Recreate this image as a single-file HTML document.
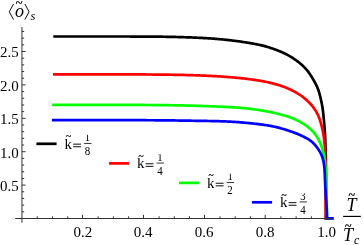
<!DOCTYPE html>
<html><head><meta charset="utf-8"><style>
html,body{margin:0;padding:0;background:#fff;}
body{width:364px;height:245px;overflow:hidden;position:relative;font-family:"Liberation Serif",serif;}
svg{position:absolute;left:0;top:0;}
text{font-family:"Liberation Serif",serif;fill:#000;}
</style></head><body>
<div style="position:absolute;left:0;top:0;width:364px;height:245px;will-change:transform">
<svg width="364" height="245" viewBox="0 0 364 245">
<path d="M53.30,36.50 L54.30,36.50 L55.30,36.50 L56.30,36.50 L57.30,36.50 L58.30,36.50 L59.30,36.50 L60.30,36.50 L61.30,36.50 L62.30,36.50 L63.30,36.50 L64.30,36.50 L65.30,36.50 L66.30,36.50 L67.30,36.50 L68.30,36.50 L69.30,36.50 L70.30,36.50 L71.30,36.50 L72.30,36.50 L73.30,36.50 L74.30,36.50 L75.30,36.50 L76.30,36.50 L77.30,36.50 L78.30,36.50 L79.30,36.50 L80.30,36.50 L81.30,36.50 L82.30,36.50 L83.30,36.50 L84.30,36.50 L85.30,36.50 L86.30,36.50 L87.30,36.50 L88.30,36.50 L89.30,36.50 L90.30,36.50 L91.30,36.50 L92.30,36.50 L93.30,36.50 L94.30,36.50 L95.30,36.50 L96.30,36.50 L97.30,36.50 L98.30,36.50 L99.30,36.50 L100.30,36.50 L101.30,36.50 L102.30,36.50 L103.30,36.50 L104.30,36.50 L105.30,36.50 L106.30,36.50 L107.30,36.50 L108.30,36.50 L109.30,36.50 L110.30,36.50 L111.30,36.50 L112.30,36.50 L113.30,36.50 L114.30,36.50 L115.30,36.50 L116.30,36.50 L117.30,36.50 L118.30,36.51 L119.30,36.51 L120.30,36.51 L121.30,36.51 L122.30,36.51 L123.30,36.51 L124.30,36.51 L125.30,36.52 L126.30,36.52 L127.30,36.52 L128.30,36.52 L129.30,36.52 L130.30,36.53 L131.30,36.53 L132.30,36.53 L133.30,36.53 L134.30,36.54 L135.30,36.54 L136.30,36.54 L137.30,36.54 L138.30,36.55 L139.30,36.55 L140.30,36.55 L141.30,36.56 L142.30,36.56 L143.30,36.57 L144.30,36.57 L145.30,36.58 L146.30,36.58 L147.30,36.59 L148.30,36.59 L149.30,36.60 L150.30,36.61 L151.30,36.61 L152.30,36.62 L153.30,36.63 L154.30,36.64 L155.30,36.65 L156.30,36.66 L157.30,36.67 L158.30,36.68 L159.30,36.69 L160.30,36.70 L161.30,36.71 L162.30,36.72 L163.30,36.74 L164.30,36.75 L165.30,36.76 L166.30,36.78 L167.30,36.80 L168.30,36.81 L169.30,36.83 L170.30,36.85 L171.30,36.87 L172.30,36.89 L173.30,36.91 L174.30,36.94 L175.30,36.96 L176.30,36.99 L177.30,37.02 L178.30,37.04 L179.30,37.07 L180.30,37.10 L181.30,37.13 L182.29,37.16 L183.29,37.20 L184.29,37.23 L185.29,37.26 L186.29,37.29 L187.29,37.33 L188.29,37.36 L189.29,37.40 L190.29,37.44 L191.29,37.47 L192.29,37.51 L193.29,37.55 L194.29,37.59 L195.29,37.64 L196.29,37.68 L197.28,37.73 L198.28,37.77 L199.28,37.82 L200.28,37.87 L201.28,37.92 L202.28,37.97 L203.28,38.03 L204.28,38.08 L205.28,38.14 L206.27,38.20 L207.27,38.26 L208.27,38.32 L209.27,38.38 L210.27,38.44 L211.26,38.51 L212.26,38.58 L213.26,38.65 L214.25,38.72 L215.25,38.80 L216.25,38.88 L217.24,38.97 L218.24,39.05 L219.24,39.14 L220.23,39.23 L221.23,39.33 L222.22,39.43 L223.22,39.53 L224.21,39.63 L225.21,39.73 L226.20,39.83 L227.20,39.94 L228.19,40.05 L229.19,40.15 L230.18,40.27 L231.17,40.38 L232.17,40.49 L233.16,40.61 L234.15,40.73 L235.14,40.86 L236.14,40.98 L237.13,41.11 L238.12,41.25 L239.11,41.38 L240.10,41.52 L241.09,41.66 L242.08,41.81 L243.07,41.96 L244.06,42.11 L245.04,42.26 L246.03,42.42 L247.02,42.58 L248.01,42.74 L248.99,42.90 L249.98,43.07 L250.96,43.24 L251.95,43.42 L252.93,43.60 L253.92,43.78 L254.90,43.97 L255.88,44.16 L256.86,44.35 L257.84,44.55 L258.82,44.75 L259.80,44.97 L260.77,45.18 L261.75,45.41 L262.72,45.64 L263.69,45.88 L264.65,46.14 L265.62,46.40 L266.58,46.67 L267.54,46.95 L268.49,47.25 L269.45,47.55 L270.40,47.86 L271.34,48.17 L272.29,48.50 L273.24,48.83 L274.18,49.16 L275.12,49.51 L276.06,49.85 L276.99,50.21 L277.92,50.57 L278.85,50.94 L279.78,51.31 L280.71,51.69 L281.63,52.09 L282.54,52.49 L283.45,52.90 L284.36,53.32 L285.26,53.75 L286.15,54.20 L287.04,54.65 L287.92,55.12 L288.79,55.61 L289.66,56.10 L290.52,56.61 L291.37,57.13 L292.21,57.67 L293.05,58.21 L293.88,58.76 L294.71,59.33 L295.53,59.90 L296.34,60.48 L297.15,61.07 L297.94,61.67 L298.73,62.29 L299.51,62.91 L300.29,63.54 L301.05,64.19 L301.80,64.85 L302.54,65.52 L303.26,66.20 L303.98,66.90 L304.68,67.61 L305.36,68.33 L306.03,69.07 L306.68,69.83 L307.31,70.60 L307.93,71.38 L308.53,72.17 L309.11,72.98 L309.68,73.80 L310.24,74.63 L310.78,75.47 L311.31,76.31 L311.84,77.16 L312.36,78.02 L312.87,78.88 L313.37,79.74 L313.88,80.60 L314.37,81.47 L314.86,82.34 L315.33,83.22 L315.79,84.11 L316.23,85.00 L316.66,85.90 L317.07,86.81 L317.45,87.73 L317.82,88.65 L318.17,89.59 L318.50,90.53 L318.81,91.48 L319.11,92.43 L319.39,93.39 L319.66,94.35 L319.91,95.31 L320.16,96.28 L320.40,97.25 L320.63,98.23 L320.85,99.20 L321.07,100.18 L321.28,101.15 L321.48,102.13 L321.68,103.11 L321.87,104.10 L322.05,105.08 L322.22,106.06 L322.39,107.05 L322.54,108.03 L322.69,109.02 L322.82,110.01 L322.95,111.00 L323.07,112.00 L323.18,112.99 L323.29,113.98 L323.39,114.98 L323.49,115.97 L323.59,116.97 L323.69,117.96 L323.78,118.96 L323.87,119.96 L323.96,120.95 L324.05,121.95 L324.14,122.94 L324.23,123.94 L324.31,124.94 L324.39,125.93 L324.47,126.93 L324.55,127.93 L324.62,128.92 L324.70,129.92 L324.77,130.92 L324.83,131.92 L324.90,132.91 L324.96,133.91 L325.01,134.91 L325.07,135.91 L325.12,136.91 L325.17,137.91 L325.21,138.91 L325.26,139.90 L325.30,140.90 L325.34,141.90 L325.37,142.90 L325.41,143.90 L325.44,144.90 L325.47,145.90 L325.50,146.90 L325.53,147.90 L325.56,148.90 L325.59,149.90 L325.62,150.90 L325.64,151.90 L325.67,152.90 L325.69,153.90 L325.72,154.90 L325.74,155.90 L325.76,156.90 L325.78,157.90 L325.80,158.90 L325.82,159.90 L325.84,160.90 L325.85,161.90 L325.87,162.90 L325.88,163.90 L325.89,164.90 L325.90,165.90 L325.91,166.90 L325.92,167.90 L325.93,168.90 L325.94,169.90 L325.94,170.90 L325.95,171.90 L325.96,172.90 L325.96,173.90 L325.97,174.90 L325.97,175.90 L325.98,176.90 L325.98,177.90 L325.98,178.90 L325.99,179.90 L325.99,180.90 L325.99,181.90 L325.99,182.90 L326.00,183.90 L326.00,184.90 L326.00,185.90 L326.00,186.90 L326.00,187.90 L326.00,188.90 L326.00,189.90 L326.00,190.90 L326.00,191.90 L326.00,192.90 L326.00,193.90 L326.00,194.90 L326.00,195.90 L326.00,196.90 L326.00,197.90 L326.00,198.90 L326.00,199.90 L326.00,200.90 L326.00,201.90 L326.00,202.90 L326.00,203.90 L326.00,204.90 L326.00,205.90 L326.00,206.90 L326.00,207.90 L326.00,208.90 L326.00,209.90 L326.00,210.90 L326.00,211.90 L326.00,212.90 L326.00,213.90 L326.00,214.90 L326.00,215.90 L326.00,216.90 L326.00,217.90 L326.0,218.45 L333.5,218.45" fill="none" stroke="#000" stroke-width="2.7" stroke-linejoin="miter"/>
<path d="M53.00,74.40 L54.00,74.40 L55.00,74.40 L56.00,74.40 L57.00,74.40 L58.00,74.40 L59.00,74.40 L60.00,74.40 L61.00,74.40 L62.00,74.40 L63.00,74.40 L64.00,74.40 L65.00,74.40 L66.00,74.40 L67.00,74.40 L68.00,74.40 L69.00,74.40 L70.00,74.40 L71.00,74.40 L72.00,74.40 L73.00,74.40 L74.00,74.40 L75.00,74.40 L76.00,74.40 L77.00,74.40 L78.00,74.40 L79.00,74.40 L80.00,74.40 L81.00,74.40 L82.00,74.40 L83.00,74.40 L84.00,74.40 L85.00,74.40 L86.00,74.40 L87.00,74.40 L88.00,74.40 L89.00,74.40 L90.00,74.40 L91.00,74.40 L92.00,74.40 L93.00,74.40 L94.00,74.40 L95.00,74.40 L96.00,74.40 L97.00,74.40 L98.00,74.40 L99.00,74.40 L100.00,74.40 L101.00,74.40 L102.00,74.40 L103.00,74.40 L104.00,74.40 L105.00,74.40 L106.00,74.40 L107.00,74.40 L108.00,74.40 L109.00,74.40 L110.00,74.40 L111.00,74.40 L112.00,74.40 L113.00,74.40 L114.00,74.40 L115.00,74.40 L116.00,74.40 L117.00,74.40 L118.00,74.41 L119.00,74.41 L120.00,74.41 L121.00,74.41 L122.00,74.41 L123.00,74.41 L124.00,74.41 L125.00,74.42 L126.00,74.42 L127.00,74.42 L128.00,74.42 L129.00,74.42 L130.00,74.43 L131.00,74.43 L132.00,74.43 L133.00,74.43 L134.00,74.43 L135.00,74.44 L136.00,74.44 L137.00,74.44 L138.00,74.45 L139.00,74.45 L140.00,74.45 L141.00,74.46 L142.00,74.46 L143.00,74.46 L144.00,74.47 L145.00,74.47 L146.00,74.48 L147.00,74.49 L148.00,74.49 L149.00,74.50 L150.00,74.51 L151.00,74.52 L152.00,74.52 L153.00,74.53 L154.00,74.54 L155.00,74.55 L156.00,74.56 L157.00,74.57 L158.00,74.58 L159.00,74.59 L160.00,74.60 L161.00,74.61 L162.00,74.62 L163.00,74.63 L164.00,74.64 L165.00,74.66 L166.00,74.67 L167.00,74.68 L168.00,74.69 L169.00,74.71 L170.00,74.72 L171.00,74.73 L172.00,74.75 L173.00,74.77 L174.00,74.78 L175.00,74.80 L176.00,74.82 L177.00,74.83 L178.00,74.85 L179.00,74.87 L180.00,74.89 L181.00,74.91 L182.00,74.93 L183.00,74.95 L184.00,74.97 L185.00,75.00 L186.00,75.02 L187.00,75.04 L188.00,75.07 L189.00,75.09 L189.99,75.12 L190.99,75.15 L191.99,75.18 L192.99,75.21 L193.99,75.24 L194.99,75.27 L195.99,75.30 L196.99,75.34 L197.99,75.37 L198.99,75.41 L199.99,75.45 L200.99,75.49 L201.99,75.53 L202.99,75.57 L203.99,75.61 L204.99,75.66 L205.98,75.70 L206.98,75.75 L207.98,75.79 L208.98,75.84 L209.98,75.89 L210.98,75.94 L211.98,75.99 L212.98,76.04 L213.97,76.10 L214.97,76.15 L215.97,76.21 L216.97,76.27 L217.97,76.33 L218.97,76.39 L219.96,76.46 L220.96,76.52 L221.96,76.59 L222.96,76.66 L223.95,76.73 L224.95,76.81 L225.95,76.88 L226.95,76.96 L227.94,77.03 L228.94,77.11 L229.94,77.19 L230.93,77.27 L231.93,77.36 L232.93,77.44 L233.92,77.53 L234.92,77.62 L235.91,77.71 L236.91,77.80 L237.91,77.90 L238.90,77.99 L239.90,78.09 L240.89,78.20 L241.88,78.30 L242.88,78.41 L243.87,78.52 L244.87,78.63 L245.86,78.75 L246.85,78.87 L247.84,78.99 L248.84,79.12 L249.83,79.25 L250.82,79.38 L251.81,79.51 L252.80,79.65 L253.79,79.79 L254.78,79.93 L255.77,80.08 L256.76,80.23 L257.75,80.38 L258.73,80.54 L259.72,80.70 L260.71,80.87 L261.69,81.04 L262.68,81.22 L263.66,81.40 L264.64,81.59 L265.62,81.78 L266.60,81.99 L267.58,82.20 L268.55,82.41 L269.53,82.64 L270.50,82.87 L271.47,83.10 L272.44,83.34 L273.41,83.59 L274.38,83.85 L275.34,84.11 L276.31,84.38 L277.27,84.65 L278.22,84.94 L279.18,85.23 L280.13,85.53 L281.08,85.85 L282.03,86.17 L282.97,86.51 L283.90,86.85 L284.84,87.21 L285.77,87.58 L286.69,87.96 L287.61,88.35 L288.53,88.75 L289.44,89.16 L290.35,89.58 L291.25,90.00 L292.15,90.44 L293.04,90.89 L293.93,91.35 L294.81,91.81 L295.69,92.29 L296.56,92.78 L297.42,93.29 L298.27,93.80 L299.12,94.34 L299.95,94.88 L300.78,95.45 L301.59,96.02 L302.39,96.62 L303.19,97.22 L303.97,97.84 L304.74,98.48 L305.50,99.12 L306.25,99.78 L306.99,100.45 L307.72,101.14 L308.43,101.84 L309.14,102.54 L309.83,103.26 L310.51,104.00 L311.18,104.74 L311.83,105.50 L312.46,106.26 L313.08,107.04 L313.69,107.84 L314.27,108.65 L314.83,109.47 L315.38,110.30 L315.90,111.15 L316.40,112.01 L316.88,112.88 L317.34,113.77 L317.78,114.66 L318.20,115.57 L318.59,116.48 L318.97,117.40 L319.33,118.33 L319.66,119.27 L319.99,120.22 L320.29,121.17 L320.58,122.12 L320.86,123.08 L321.13,124.05 L321.38,125.01 L321.63,125.98 L321.86,126.95 L322.09,127.93 L322.31,128.90 L322.52,129.88 L322.73,130.86 L322.93,131.84 L323.11,132.82 L323.29,133.80 L323.46,134.79 L323.62,135.78 L323.76,136.76 L323.90,137.75 L324.03,138.74 L324.15,139.74 L324.26,140.73 L324.36,141.72 L324.46,142.72 L324.54,143.72 L324.63,144.71 L324.70,145.71 L324.77,146.71 L324.84,147.70 L324.90,148.70 L324.96,149.70 L325.01,150.70 L325.06,151.70 L325.10,152.70 L325.14,153.70 L325.18,154.70 L325.22,155.70 L325.25,156.69 L325.28,157.69 L325.30,158.69 L325.33,159.69 L325.35,160.69 L325.37,161.69 L325.39,162.69 L325.41,163.69 L325.42,164.69 L325.44,165.69 L325.45,166.69 L325.47,167.69 L325.48,168.69 L325.49,169.69 L325.50,170.69 L325.51,171.69 L325.52,172.69 L325.53,173.69 L325.54,174.69 L325.55,175.69 L325.56,176.69 L325.57,177.69 L325.58,178.69 L325.59,179.69 L325.59,180.69 L325.60,181.69 L325.61,182.69 L325.61,183.69 L325.62,184.69 L325.63,185.69 L325.63,186.69 L325.64,187.69 L325.64,188.69 L325.65,189.69 L325.65,190.69 L325.66,191.69 L325.66,192.69 L325.67,193.69 L325.67,194.69 L325.67,195.69 L325.68,196.69 L325.68,197.69 L325.69,198.69 L325.69,199.69 L325.69,200.69 L325.70,201.69 L325.70,202.69 L325.70,203.69 L325.71,204.69 L325.71,205.69 L325.71,206.69 L325.72,207.69 L325.72,208.69 L325.72,209.69 L325.73,210.69 L325.73,211.69 L325.73,212.69 L325.74,213.69 L325.74,214.69 L325.74,215.69 L325.74,216.69 L325.75,217.69 L325.75,218.45 L333.5,218.45" fill="none" stroke="#f00" stroke-width="2.7" stroke-linejoin="miter"/>
<path d="M52.20,104.90 L53.20,104.90 L54.20,104.90 L55.20,104.90 L56.20,104.90 L57.20,104.90 L58.20,104.90 L59.20,104.90 L60.20,104.90 L61.20,104.90 L62.20,104.90 L63.20,104.90 L64.20,104.90 L65.20,104.90 L66.20,104.90 L67.20,104.90 L68.20,104.90 L69.20,104.90 L70.20,104.90 L71.20,104.90 L72.20,104.90 L73.20,104.90 L74.20,104.90 L75.20,104.90 L76.20,104.90 L77.20,104.90 L78.20,104.90 L79.20,104.90 L80.20,104.90 L81.20,104.90 L82.20,104.90 L83.20,104.90 L84.20,104.90 L85.20,104.90 L86.20,104.90 L87.20,104.90 L88.20,104.90 L89.20,104.90 L90.20,104.90 L91.20,104.90 L92.20,104.90 L93.20,104.90 L94.20,104.90 L95.20,104.90 L96.20,104.90 L97.20,104.90 L98.20,104.90 L99.20,104.90 L100.20,104.90 L101.20,104.90 L102.20,104.90 L103.20,104.90 L104.20,104.90 L105.20,104.90 L106.20,104.90 L107.20,104.90 L108.20,104.90 L109.20,104.90 L110.20,104.90 L111.20,104.90 L112.20,104.90 L113.20,104.90 L114.20,104.90 L115.20,104.90 L116.20,104.90 L117.20,104.90 L118.20,104.91 L119.20,104.91 L120.20,104.91 L121.20,104.91 L122.20,104.91 L123.20,104.91 L124.20,104.91 L125.20,104.92 L126.20,104.92 L127.20,104.92 L128.20,104.92 L129.20,104.92 L130.20,104.93 L131.20,104.93 L132.20,104.93 L133.20,104.93 L134.20,104.94 L135.20,104.94 L136.20,104.94 L137.20,104.94 L138.20,104.95 L139.20,104.95 L140.20,104.95 L141.20,104.96 L142.20,104.96 L143.20,104.97 L144.20,104.97 L145.20,104.98 L146.20,104.98 L147.20,104.99 L148.20,104.99 L149.20,105.00 L150.20,105.01 L151.20,105.02 L152.20,105.03 L153.20,105.03 L154.20,105.04 L155.20,105.05 L156.20,105.06 L157.20,105.07 L158.20,105.08 L159.20,105.09 L160.20,105.10 L161.20,105.11 L162.20,105.12 L163.20,105.13 L164.20,105.15 L165.20,105.16 L166.20,105.17 L167.20,105.18 L168.20,105.20 L169.20,105.21 L170.20,105.23 L171.20,105.24 L172.20,105.26 L173.20,105.27 L174.20,105.29 L175.20,105.31 L176.20,105.32 L177.20,105.34 L178.20,105.36 L179.20,105.38 L180.20,105.40 L181.20,105.42 L182.20,105.44 L183.20,105.46 L184.20,105.48 L185.20,105.51 L186.20,105.53 L187.20,105.55 L188.20,105.57 L189.20,105.60 L190.19,105.62 L191.19,105.65 L192.19,105.67 L193.19,105.70 L194.19,105.72 L195.19,105.75 L196.19,105.78 L197.19,105.81 L198.19,105.84 L199.19,105.87 L200.19,105.90 L201.19,105.93 L202.19,105.97 L203.19,106.00 L204.19,106.03 L205.19,106.07 L206.19,106.10 L207.19,106.14 L208.19,106.17 L209.19,106.21 L210.19,106.25 L211.18,106.29 L212.18,106.32 L213.18,106.36 L214.18,106.40 L215.18,106.45 L216.18,106.49 L217.18,106.53 L218.18,106.58 L219.18,106.62 L220.18,106.67 L221.17,106.72 L222.17,106.76 L223.17,106.81 L224.17,106.86 L225.17,106.91 L226.17,106.96 L227.17,107.00 L228.17,107.05 L229.17,107.10 L230.16,107.16 L231.16,107.21 L232.16,107.26 L233.16,107.32 L234.16,107.38 L235.16,107.44 L236.15,107.51 L237.15,107.58 L238.15,107.65 L239.15,107.73 L240.14,107.81 L241.14,107.89 L242.13,107.98 L243.13,108.07 L244.13,108.17 L245.12,108.27 L246.11,108.37 L247.11,108.48 L248.10,108.59 L249.10,108.70 L250.09,108.82 L251.08,108.95 L252.07,109.07 L253.06,109.20 L254.06,109.33 L255.05,109.47 L256.04,109.61 L257.03,109.75 L258.02,109.89 L259.01,110.04 L259.99,110.19 L260.98,110.35 L261.97,110.51 L262.96,110.67 L263.94,110.84 L264.93,111.02 L265.91,111.19 L266.89,111.38 L267.87,111.57 L268.86,111.76 L269.84,111.96 L270.81,112.16 L271.79,112.37 L272.77,112.58 L273.75,112.80 L274.72,113.02 L275.69,113.25 L276.67,113.48 L277.64,113.72 L278.61,113.96 L279.58,114.20 L280.55,114.45 L281.52,114.70 L282.48,114.96 L283.45,115.22 L284.41,115.48 L285.37,115.76 L286.33,116.04 L287.28,116.34 L288.23,116.65 L289.18,116.97 L290.12,117.31 L291.05,117.66 L291.98,118.02 L292.91,118.40 L293.83,118.79 L294.75,119.19 L295.66,119.60 L296.56,120.03 L297.46,120.46 L298.35,120.91 L299.24,121.37 L300.12,121.84 L301.00,122.33 L301.86,122.83 L302.72,123.34 L303.56,123.87 L304.40,124.41 L305.23,124.97 L306.05,125.55 L306.85,126.13 L307.65,126.74 L308.43,127.36 L309.20,128.00 L309.96,128.65 L310.70,129.32 L311.42,130.01 L312.13,130.71 L312.81,131.43 L313.48,132.17 L314.13,132.92 L314.75,133.69 L315.35,134.48 L315.93,135.29 L316.49,136.12 L317.02,136.96 L317.53,137.81 L318.02,138.68 L318.49,139.56 L318.94,140.45 L319.38,141.34 L319.80,142.25 L320.20,143.17 L320.60,144.09 L320.97,145.01 L321.33,145.94 L321.68,146.88 L322.01,147.82 L322.32,148.77 L322.61,149.72 L322.89,150.68 L323.14,151.64 L323.38,152.61 L323.60,153.59 L323.81,154.56 L324.00,155.54 L324.17,156.53 L324.34,157.51 L324.49,158.50 L324.63,159.49 L324.76,160.48 L324.89,161.47 L325.00,162.46 L325.12,163.46 L325.22,164.45 L325.33,165.45 L325.43,166.44 L325.52,167.44 L325.61,168.44 L325.70,169.43 L325.78,170.43 L325.86,171.43 L325.94,172.42 L326.00,173.42 L326.06,174.42 L326.12,175.42 L326.16,176.41 L326.21,177.41 L326.25,178.41 L326.28,179.41 L326.31,180.41 L326.33,181.41 L326.36,182.41 L326.38,183.41 L326.40,184.41 L326.42,185.41 L326.44,186.41 L326.46,187.41 L326.47,188.41 L326.49,189.41 L326.51,190.41 L326.52,191.41 L326.54,192.41 L326.56,193.41 L326.58,194.41 L326.59,195.41 L326.61,196.41 L326.63,197.41 L326.65,198.41 L326.67,199.41 L326.69,200.41 L326.71,201.41 L326.74,202.41 L326.76,203.41 L326.78,204.41 L326.80,205.41 L326.82,206.41 L326.84,207.41 L326.86,208.41 L326.88,209.41 L326.89,210.41 L326.91,211.41 L326.93,212.41 L326.94,213.41 L326.95,214.41 L326.96,215.40 L326.97,216.40 L326.98,217.40 L326.99,218.40 L327.0,218.45 L333.5,218.45" fill="none" stroke="#0f0" stroke-width="2.7" stroke-linejoin="miter"/>
<path d="M51.90,120.15 L52.90,120.15 L53.90,120.15 L54.90,120.15 L55.90,120.15 L56.90,120.15 L57.90,120.15 L58.90,120.15 L59.90,120.15 L60.90,120.15 L61.90,120.15 L62.90,120.15 L63.90,120.15 L64.90,120.15 L65.90,120.15 L66.90,120.15 L67.90,120.15 L68.90,120.15 L69.90,120.15 L70.90,120.15 L71.90,120.15 L72.90,120.15 L73.90,120.15 L74.90,120.15 L75.90,120.15 L76.90,120.15 L77.90,120.15 L78.90,120.15 L79.90,120.15 L80.90,120.15 L81.90,120.15 L82.90,120.15 L83.90,120.15 L84.90,120.15 L85.90,120.15 L86.90,120.15 L87.90,120.15 L88.90,120.15 L89.90,120.15 L90.90,120.15 L91.90,120.15 L92.90,120.15 L93.90,120.15 L94.90,120.15 L95.90,120.15 L96.90,120.15 L97.90,120.15 L98.90,120.15 L99.90,120.15 L100.90,120.15 L101.90,120.15 L102.90,120.15 L103.90,120.15 L104.90,120.15 L105.90,120.15 L106.90,120.15 L107.90,120.15 L108.90,120.15 L109.90,120.15 L110.90,120.15 L111.90,120.15 L112.90,120.15 L113.90,120.15 L114.90,120.15 L115.90,120.15 L116.90,120.15 L117.90,120.16 L118.90,120.16 L119.90,120.16 L120.90,120.16 L121.90,120.16 L122.90,120.16 L123.90,120.16 L124.90,120.17 L125.90,120.17 L126.90,120.17 L127.90,120.17 L128.90,120.17 L129.90,120.18 L130.90,120.18 L131.90,120.18 L132.90,120.18 L133.90,120.18 L134.90,120.19 L135.90,120.19 L136.90,120.19 L137.90,120.20 L138.90,120.20 L139.90,120.20 L140.90,120.20 L141.90,120.21 L142.90,120.21 L143.90,120.22 L144.90,120.22 L145.90,120.22 L146.90,120.23 L147.90,120.23 L148.90,120.24 L149.90,120.24 L150.90,120.25 L151.90,120.26 L152.90,120.26 L153.90,120.27 L154.90,120.28 L155.90,120.28 L156.90,120.29 L157.90,120.30 L158.90,120.30 L159.90,120.31 L160.90,120.32 L161.90,120.33 L162.90,120.34 L163.90,120.35 L164.90,120.35 L165.90,120.36 L166.90,120.37 L167.90,120.38 L168.90,120.40 L169.90,120.41 L170.90,120.42 L171.90,120.43 L172.90,120.45 L173.90,120.46 L174.90,120.47 L175.90,120.49 L176.90,120.50 L177.90,120.52 L178.90,120.53 L179.90,120.55 L180.90,120.56 L181.90,120.58 L182.90,120.60 L183.90,120.61 L184.90,120.63 L185.90,120.64 L186.90,120.66 L187.90,120.67 L188.90,120.69 L189.90,120.70 L190.90,120.72 L191.90,120.73 L192.90,120.75 L193.90,120.76 L194.90,120.78 L195.90,120.79 L196.90,120.81 L197.90,120.82 L198.90,120.84 L199.90,120.85 L200.90,120.87 L201.90,120.88 L202.90,120.90 L203.90,120.91 L204.90,120.93 L205.90,120.95 L206.90,120.96 L207.90,120.98 L208.89,121.00 L209.89,121.02 L210.89,121.04 L211.89,121.06 L212.89,121.08 L213.89,121.10 L214.89,121.12 L215.89,121.14 L216.89,121.17 L217.89,121.19 L218.89,121.22 L219.89,121.25 L220.89,121.28 L221.89,121.31 L222.89,121.34 L223.89,121.38 L224.89,121.41 L225.89,121.45 L226.89,121.50 L227.89,121.54 L228.89,121.59 L229.88,121.64 L230.88,121.69 L231.88,121.74 L232.88,121.80 L233.88,121.86 L234.88,121.92 L235.87,121.99 L236.87,122.06 L237.87,122.13 L238.86,122.21 L239.86,122.29 L240.86,122.37 L241.85,122.45 L242.85,122.54 L243.85,122.63 L244.84,122.72 L245.84,122.81 L246.83,122.90 L247.83,123.00 L248.83,123.10 L249.82,123.20 L250.82,123.30 L251.81,123.40 L252.80,123.51 L253.80,123.62 L254.79,123.72 L255.79,123.84 L256.78,123.95 L257.77,124.07 L258.77,124.18 L259.76,124.31 L260.75,124.43 L261.74,124.56 L262.73,124.69 L263.72,124.83 L264.71,124.97 L265.70,125.12 L266.69,125.27 L267.68,125.43 L268.67,125.59 L269.65,125.76 L270.63,125.94 L271.62,126.12 L272.60,126.31 L273.58,126.51 L274.55,126.72 L275.53,126.94 L276.50,127.17 L277.47,127.40 L278.44,127.65 L279.41,127.90 L280.37,128.16 L281.34,128.43 L282.30,128.71 L283.26,128.99 L284.21,129.28 L285.17,129.57 L286.13,129.87 L287.08,130.17 L288.03,130.47 L288.98,130.78 L289.93,131.10 L290.88,131.42 L291.83,131.74 L292.77,132.08 L293.71,132.42 L294.64,132.76 L295.58,133.12 L296.51,133.49 L297.43,133.87 L298.35,134.26 L299.27,134.66 L300.18,135.07 L301.09,135.49 L301.99,135.92 L302.90,136.35 L303.80,136.80 L304.69,137.26 L305.58,137.72 L306.46,138.20 L307.33,138.69 L308.19,139.20 L309.03,139.73 L309.86,140.28 L310.66,140.85 L311.44,141.45 L312.19,142.08 L312.92,142.74 L313.63,143.43 L314.31,144.15 L314.97,144.88 L315.61,145.64 L316.24,146.42 L316.85,147.21 L317.44,148.01 L318.01,148.83 L318.57,149.65 L319.11,150.49 L319.63,151.34 L320.12,152.21 L320.58,153.08 L321.02,153.98 L321.43,154.88 L321.81,155.80 L322.15,156.73 L322.47,157.67 L322.76,158.62 L323.03,159.57 L323.27,160.54 L323.48,161.51 L323.67,162.49 L323.85,163.47 L324.00,164.46 L324.13,165.45 L324.25,166.44 L324.35,167.43 L324.44,168.42 L324.52,169.42 L324.59,170.42 L324.65,171.42 L324.70,172.41 L324.75,173.41 L324.79,174.41 L324.83,175.41 L324.87,176.41 L324.91,177.41 L324.95,178.41 L324.99,179.41 L325.03,180.41 L325.08,181.41 L325.12,182.41 L325.16,183.40 L325.21,184.40 L325.25,185.40 L325.30,186.40 L325.35,187.40 L325.39,188.40 L325.44,189.40 L325.50,190.40 L325.55,191.40 L325.61,192.39 L325.67,193.39 L325.73,194.39 L325.79,195.39 L325.86,196.38 L325.93,197.38 L326.00,198.38 L326.08,199.38 L326.15,200.37 L326.23,201.37 L326.30,202.37 L326.37,203.37 L326.44,204.36 L326.51,205.36 L326.57,206.36 L326.63,207.36 L326.68,208.36 L326.73,209.35 L326.78,210.35 L326.82,211.35 L326.86,212.35 L326.90,213.35 L326.93,214.35 L326.96,215.35 L326.98,216.35 L327.00,217.35 L327.02,218.35 L327.05,218.45 L333.5,218.45" fill="none" stroke="#00f" stroke-width="2.7" stroke-linejoin="miter"/>
<g stroke="#333" stroke-width="1" fill="none">
<line x1="15.2" y1="218.5" x2="332" y2="218.5"/>
<line x1="21.95" y1="27.1" x2="21.95" y2="222.7"/>
<line x1="37.23" y1="218.5" x2="37.23" y2="216.3"/>
<line x1="52.46" y1="218.5" x2="52.46" y2="216.3"/>
<line x1="67.69" y1="218.5" x2="67.69" y2="216.3"/>
<line x1="82.50" y1="218.5" x2="82.50" y2="214.9"/>
<line x1="98.15" y1="218.5" x2="98.15" y2="216.3"/>
<line x1="113.38" y1="218.5" x2="113.38" y2="216.3"/>
<line x1="128.61" y1="218.5" x2="128.61" y2="216.3"/>
<line x1="143.50" y1="218.5" x2="143.50" y2="214.9"/>
<line x1="159.07" y1="218.5" x2="159.07" y2="216.3"/>
<line x1="174.30" y1="218.5" x2="174.30" y2="216.3"/>
<line x1="189.53" y1="218.5" x2="189.53" y2="216.3"/>
<line x1="204.50" y1="218.5" x2="204.50" y2="214.9"/>
<line x1="219.99" y1="218.5" x2="219.99" y2="216.3"/>
<line x1="235.22" y1="218.5" x2="235.22" y2="216.3"/>
<line x1="250.45" y1="218.5" x2="250.45" y2="216.3"/>
<line x1="265.20" y1="218.5" x2="265.20" y2="214.9"/>
<line x1="280.91" y1="218.5" x2="280.91" y2="216.3"/>
<line x1="296.14" y1="218.5" x2="296.14" y2="216.3"/>
<line x1="311.37" y1="218.5" x2="311.37" y2="216.3"/>
<line x1="325.70" y1="218.5" x2="325.70" y2="214.9"/>
<line x1="21.95" y1="211.82" x2="24.15" y2="211.82"/>
<line x1="21.95" y1="205.14" x2="24.15" y2="205.14"/>
<line x1="21.95" y1="198.46" x2="24.15" y2="198.46"/>
<line x1="21.95" y1="191.78" x2="24.15" y2="191.78"/>
<line x1="21.95" y1="185.10" x2="25.55" y2="185.10"/>
<line x1="21.95" y1="178.42" x2="24.15" y2="178.42"/>
<line x1="21.95" y1="171.74" x2="24.15" y2="171.74"/>
<line x1="21.95" y1="165.06" x2="24.15" y2="165.06"/>
<line x1="21.95" y1="158.38" x2="24.15" y2="158.38"/>
<line x1="21.95" y1="151.70" x2="25.55" y2="151.70"/>
<line x1="21.95" y1="145.02" x2="24.15" y2="145.02"/>
<line x1="21.95" y1="138.34" x2="24.15" y2="138.34"/>
<line x1="21.95" y1="131.66" x2="24.15" y2="131.66"/>
<line x1="21.95" y1="124.98" x2="24.15" y2="124.98"/>
<line x1="21.95" y1="118.30" x2="25.55" y2="118.30"/>
<line x1="21.95" y1="111.62" x2="24.15" y2="111.62"/>
<line x1="21.95" y1="104.94" x2="24.15" y2="104.94"/>
<line x1="21.95" y1="98.26" x2="24.15" y2="98.26"/>
<line x1="21.95" y1="91.58" x2="24.15" y2="91.58"/>
<line x1="21.95" y1="84.90" x2="25.55" y2="84.90"/>
<line x1="21.95" y1="78.22" x2="24.15" y2="78.22"/>
<line x1="21.95" y1="71.54" x2="24.15" y2="71.54"/>
<line x1="21.95" y1="64.86" x2="24.15" y2="64.86"/>
<line x1="21.95" y1="58.18" x2="24.15" y2="58.18"/>
<line x1="21.95" y1="51.50" x2="25.55" y2="51.50"/>
<line x1="21.95" y1="44.82" x2="24.15" y2="44.82"/>
<line x1="21.95" y1="38.14" x2="24.15" y2="38.14"/>
<line x1="21.95" y1="31.46" x2="24.15" y2="31.46"/>
</g>
<g font-size="15">
<text x="82.8" y="237" text-anchor="middle">0.2</text>
<text x="143.15" y="237" text-anchor="middle">0.4</text>
<text x="204.15" y="237" text-anchor="middle">0.6</text>
<text x="265.0" y="237" text-anchor="middle">0.8</text>
<text x="326.6" y="237" text-anchor="middle">1.0</text>
<text x="18.8" y="190.5" text-anchor="end">0.5</text>
<text x="18.8" y="157.6" text-anchor="end">1.0</text>
<text x="18.8" y="123.7" text-anchor="end">1.5</text>
<text x="18.8" y="90.8" text-anchor="end">2.0</text>
<text x="18.8" y="56.9" text-anchor="end">2.5</text>
</g>
<!-- ylabel -->
<g fill="none" stroke="#000" stroke-width="0.95" stroke-linejoin="miter">
<polyline points="13.5,4.0 9.3,11.8 13.5,19.6"/>
<polyline points="24.85,4.0 29.05,11.8 24.85,19.6"/>
</g>
<text x="15.1" y="16.9" font-size="18" font-style="italic">o</text>
<text x="15.7" y="7.0" font-size="12.5" stroke="#000" stroke-width="0.3">~</text>
<text x="30.4" y="19.9" font-size="12.5" font-style="italic">s</text>
<!-- xlabel -->
<g font-size="18" font-style="italic">
<text x="346.5" y="210.5">T</text>
<text x="342.9" y="241.0">T</text>
<text x="354.1" y="243.5" font-size="12">c</text>
</g>
<text x="348.5" y="198.9" font-size="12" stroke="#000" stroke-width="0.3">~</text>
<text x="344.9" y="230.2" font-size="12" stroke="#000" stroke-width="0.3">~</text>
<line x1="343.1" y1="216.4" x2="360.9" y2="216.4" stroke="#000" stroke-width="1.15"/>
<!-- legend -->
<line x1="36.4" y1="143.8" x2="56.599999999999994" y2="143.8" stroke="#000" stroke-width="2.7"/>
<text x="64.5" y="148.7" font-size="15">k</text>
<text x="66.0" y="139.1" font-size="9.5" stroke="#000" stroke-width="0.25">~</text>
<path d="M73.1,144.15h7.9M73.1,146.75h7.9" stroke="#000" stroke-width="0.95" fill="none"/>
<clipPath id="c4"><rect x="79.5" y="134.7" width="16" height="12"/></clipPath><g clip-path="url(#c4)"><text transform="translate(87.5,141.2) scale(0.92,1)" font-size="11.7" text-anchor="middle">1</text></g>
<line x1="84.1" y1="143.45" x2="91.4" y2="143.45" stroke="#000" stroke-width="0.8"/>
<text transform="translate(87.5,155.1) scale(0.92,1)" font-size="11.9" text-anchor="middle">8</text>
<line x1="108.9" y1="163.4" x2="129.1" y2="163.4" stroke="#f00" stroke-width="2.7"/>
<text x="137.0" y="168.3" font-size="15">k</text>
<text x="138.5" y="158.7" font-size="9.5" stroke="#000" stroke-width="0.25">~</text>
<path d="M145.6,163.75h7.9M145.6,166.35h7.9" stroke="#000" stroke-width="0.95" fill="none"/>
<clipPath id="c11"><rect x="152.0" y="154.3" width="16" height="12"/></clipPath><g clip-path="url(#c11)"><text transform="translate(160.0,160.8) scale(0.92,1)" font-size="11.7" text-anchor="middle">1</text></g>
<line x1="156.6" y1="163.05" x2="163.9" y2="163.05" stroke="#000" stroke-width="0.8"/>
<text transform="translate(160.0,174.7) scale(0.92,1)" font-size="11.9" text-anchor="middle">4</text>
<line x1="179.0" y1="182.9" x2="199.2" y2="182.9" stroke="#0f0" stroke-width="2.7"/>
<text x="207.1" y="187.8" font-size="15">k</text>
<text x="208.6" y="178.2" font-size="9.5" stroke="#000" stroke-width="0.25">~</text>
<path d="M215.7,183.25h7.9M215.7,185.85h7.9" stroke="#000" stroke-width="0.95" fill="none"/>
<clipPath id="c18"><rect x="222.1" y="173.8" width="16" height="12"/></clipPath><g clip-path="url(#c18)"><text transform="translate(230.1,180.3) scale(0.92,1)" font-size="11.7" text-anchor="middle">1</text></g>
<line x1="226.7" y1="182.55" x2="234.0" y2="182.55" stroke="#000" stroke-width="0.8"/>
<text transform="translate(230.1,194.2) scale(0.92,1)" font-size="11.9" text-anchor="middle">2</text>
<line x1="251.9" y1="202.3" x2="272.1" y2="202.3" stroke="#00f" stroke-width="2.7"/>
<text x="280.0" y="207.2" font-size="15">k</text>
<text x="281.5" y="197.6" font-size="9.5" stroke="#000" stroke-width="0.25">~</text>
<path d="M288.6,202.65h7.9M288.6,205.25h7.9" stroke="#000" stroke-width="0.95" fill="none"/>
<clipPath id="c25"><rect x="295.0" y="193.2" width="16" height="12"/></clipPath><g clip-path="url(#c25)"><text transform="translate(303.0,199.7) scale(0.92,1)" font-size="11.7" text-anchor="middle">3</text></g>
<line x1="299.6" y1="201.95" x2="306.9" y2="201.95" stroke="#000" stroke-width="0.8"/>
<text transform="translate(303.0,213.6) scale(0.92,1)" font-size="11.9" text-anchor="middle">4</text>
</svg>
</div>
</body></html>
